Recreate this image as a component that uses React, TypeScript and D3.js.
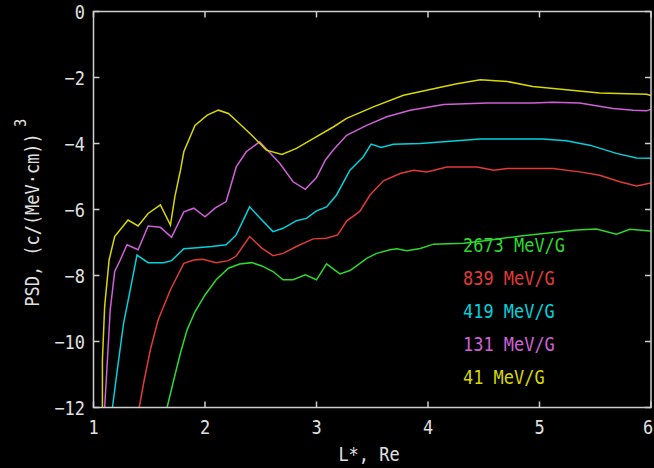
import React from 'react'
import * as d3 from 'd3'

const WIDTH = 654
const HEIGHT = 468
const LEFT = 93.5
const RIGHT = 651
const TOP = 11.5
const BOTTOM = 407.5
const FONT = '"DejaVu Sans Mono", monospace'
const AXIS = '#cfcfcf'

type Pt = [number, number]

// PSD curves: [L*, log10 PSD]
const yellow: Pt[] = [[1.08,-12],[1.08,-10.55],[1.10,-8.94],[1.12,-8.23],[1.14,-7.53],[1.19,-6.82],[1.31,-6.32],[1.40,-6.50],[1.49,-6.12],[1.60,-5.86],[1.69,-6.47],[1.73,-5.61],[1.78,-4.81],[1.81,-4.25],[1.91,-3.45],[2.02,-3.14],[2.12,-2.99],[2.21,-3.09],[2.31,-3.40],[2.42,-3.75],[2.55,-4.20],[2.69,-4.33],[2.82,-4.15],[2.97,-3.85],[3.15,-3.50],[3.27,-3.24],[3.51,-2.89],[3.78,-2.54],[4.05,-2.34],[4.26,-2.19],[4.47,-2.07],[4.71,-2.12],[4.94,-2.27],[5.24,-2.37],[5.54,-2.47],[5.96,-2.51],[6.0,-2.55]]
const magenta: Pt[] = [[1.10,-12],[1.12,-10.85],[1.15,-9.04],[1.19,-7.88],[1.24,-7.53],[1.30,-7.07],[1.40,-7.22],[1.49,-6.50],[1.60,-6.54],[1.70,-6.84],[1.81,-6.07],[1.90,-5.96],[2.00,-6.22],[2.09,-5.96],[2.19,-5.76],[2.28,-4.71],[2.37,-4.25],[2.49,-3.95],[2.67,-4.60],[2.79,-5.16],[2.90,-5.39],[3.00,-5.03],[3.08,-4.50],[3.15,-4.20],[3.27,-3.75],[3.45,-3.45],[3.63,-3.19],[3.84,-2.99],[4.14,-2.82],[4.53,-2.77],[4.94,-2.77],[5.12,-2.75],[5.36,-2.77],[5.66,-2.94],[5.84,-2.99],[5.96,-3.01],[6.0,-2.96]]
const cyan: Pt[] = [[1.17,-12],[1.21,-10.95],[1.27,-9.44],[1.33,-8.43],[1.39,-7.38],[1.49,-7.61],[1.63,-7.61],[1.70,-7.55],[1.81,-7.19],[1.93,-7.16],[2.06,-7.12],[2.19,-7.07],[2.28,-6.77],[2.40,-5.92],[2.51,-6.32],[2.61,-6.67],[2.70,-6.57],[2.82,-6.34],[2.91,-6.27],[3.00,-6.04],[3.09,-5.92],[3.18,-5.56],[3.30,-4.81],[3.42,-4.40],[3.49,-4.02],[3.58,-4.12],[3.69,-4.02],[3.93,-4.00],[4.26,-3.92],[4.47,-3.86],[5.03,-3.86],[5.24,-3.92],[5.45,-4.05],[5.69,-4.30],[5.87,-4.44],[6.0,-4.45]]
const red: Pt[] = [[1.41,-12],[1.45,-11.25],[1.51,-10.25],[1.58,-9.34],[1.69,-8.43],[1.75,-8.03],[1.81,-7.63],[1.90,-7.53],[1.98,-7.51],[2.10,-7.61],[2.21,-7.55],[2.28,-7.41],[2.40,-6.82],[2.51,-7.17],[2.61,-7.40],[2.70,-7.33],[2.82,-7.12],[2.97,-6.89],[3.09,-6.87],[3.19,-6.77],[3.27,-6.35],[3.39,-6.05],[3.48,-5.56],[3.60,-5.13],[3.75,-4.91],[3.87,-4.81],[3.99,-4.86],[4.17,-4.71],[4.44,-4.71],[4.59,-4.81],[4.71,-4.76],[5.12,-4.76],[5.36,-4.86],[5.54,-4.96],[5.72,-5.16],[5.87,-5.29],[6.0,-5.2]]
const green: Pt[] = [[1.66,-12],[1.72,-11.16],[1.78,-10.35],[1.84,-9.64],[1.91,-9.1],[2.00,-8.59],[2.10,-8.13],[2.21,-7.78],[2.31,-7.65],[2.42,-7.61],[2.51,-7.71],[2.61,-7.88],[2.70,-8.13],[2.79,-8.13],[2.90,-7.98],[3.00,-8.13],[3.09,-7.65],[3.21,-7.95],[3.30,-7.85],[3.39,-7.63],[3.45,-7.48],[3.54,-7.33],[3.66,-7.22],[3.72,-7.19],[3.81,-7.25],[3.93,-7.18],[4.05,-7.05],[4.32,-7.02],[4.53,-6.94],[4.83,-6.80],[5.06,-6.72],[5.33,-6.62],[5.51,-6.59],[5.69,-6.75],[5.81,-6.60],[5.99,-6.65],[6.0,-6.65]]

const seriesData = [green, red, cyan, magenta, yellow]
const seriesLabels = ['2673 MeV/G', '839 MeV/G', '419 MeV/G', '131 MeV/G', '41 MeV/G']
const seriesColours = ['#2ed82e', '#e03a3a', '#00d2dc', '#d060d8', '#d8d800']

const xTicks = [1, 2, 3, 4, 5, 6]
const yTicks = [0, -2, -4, -6, -8, -10, -12]

const CHAR_W = 10.2

// narrow, tall monospace text, like the original terminal font
function Txt({ x, y, children, anchor = 'start', fill = '#e0e0e0', size = 20, transform }: any) {
  const s = String(children)
  return (
    <text x={x} y={y} textAnchor={anchor} dominantBaseline="central" fill={fill}
      fontFamily={FONT} fontSize={size} textLength={s.length * CHAR_W * size / 20}
      lengthAdjust="spacingAndGlyphs" transform={transform}>{s}</text>
  )
}

export default function App() {
  const x = d3.scaleLinear().domain([1, 6]).range([LEFT, RIGHT])
  const y = d3.scaleLinear().domain([-12, 0]).range([BOTTOM, TOP])
  const line = d3.line<Pt>().x(d => x(d[0])).y(d => y(d[1]))

  return (
    <svg width={WIDTH} height={HEIGHT} style={{ position: 'absolute', left: 0, top: 0, background: '#000' }}>
      <rect width={WIDTH} height={HEIGHT} fill="#000" />
      <defs>
        <clipPath id="plot"><rect x={LEFT} y={TOP} width={RIGHT - LEFT} height={BOTTOM - TOP} /></clipPath>
      </defs>

      <g clipPath="url(#plot)">
        {seriesData.map((d, i) => (
          <path key={i} d={line(d) || ''} fill="none" stroke={seriesColours[i]} strokeWidth={1.5} />
        ))}
      </g>

      <rect x={LEFT} y={TOP} width={RIGHT - LEFT} height={BOTTOM - TOP} fill="none" stroke={AXIS} strokeWidth={1.5} />
      {xTicks.map(t => (
        <g key={'x' + t}>
          <line x1={x(t)} x2={x(t)} y1={BOTTOM} y2={BOTTOM - 6} stroke={AXIS} strokeWidth={1.5} />
          <line x1={x(t)} x2={x(t)} y1={TOP} y2={TOP + 6} stroke={AXIS} strokeWidth={1.5} />
          <Txt x={Math.min(x(t), 648)} y={427} anchor="middle">{t}</Txt>
        </g>
      ))}
      {yTicks.map(t => (
        <g key={'y' + t}>
          <line x1={LEFT} x2={LEFT + 6} y1={y(t)} y2={y(t)} stroke={AXIS} strokeWidth={1.5} />
          <line x1={RIGHT} x2={RIGHT - 6} y1={y(t)} y2={y(t)} stroke={AXIS} strokeWidth={1.5} />
          <Txt x={85} y={y(t)} anchor="end">{t === 0 ? '0' : '\u2212' + Math.abs(t)}</Txt>
        </g>
      ))}

      <Txt x={369} y={454} anchor="middle">L*, Re</Txt>
      <Txt x={0} y={0} anchor="middle" transform="translate(32,220) rotate(-90)">PSD, (c/(MeV·cm))</Txt>
      <Txt x={0} y={0} anchor="middle" size={16} transform="translate(20,123) rotate(-90)">3</Txt>

      {seriesLabels.map((s, i) => (
        <Txt key={s} x={463} y={245 + i * 33} fill={seriesColours[i]}>{s}</Txt>
      ))}
    </svg>
  )
}
